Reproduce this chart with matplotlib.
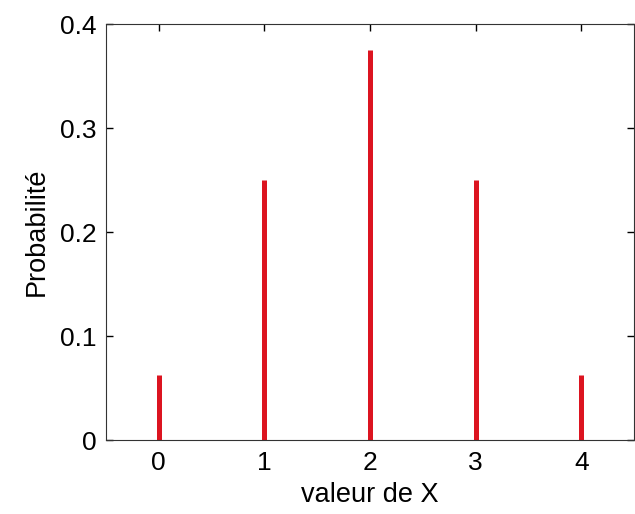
import matplotlib
matplotlib.use("Agg")
import matplotlib.pyplot as plt

x_values = [0, 1, 2, 3, 4]
probabilities = [0.0625, 0.25, 0.375, 0.25, 0.0625]
x_ticks = [0, 1, 2, 3, 4]
y_ticks = [0, 0.1, 0.2, 0.3, 0.4]
y_tick_labels = ["0", "0.1", "0.2", "0.3", "0.4"]

plt.rcParams['font.family'] = ['Liberation Sans', 'DejaVu Sans']

fig = plt.figure(figsize=(6.35, 5.14), dpi=100)
ax = fig.add_axes([106/635, 74/514, 528/635, 416/514])
ax.vlines(x_values, 0, probabilities, colors='#dc1420', linewidth=3.6)
ax.set_xlim(-0.5, 4.5)
ax.set_ylim(0, 0.4)
ax.set_xticks(x_ticks)
ax.set_yticks(y_ticks)
ax.set_yticklabels(y_tick_labels)
ax.tick_params(direction='in', top=True, right=True, labelsize=19, length=5, width=1)
ax.tick_params(axis='y', pad=7)
ax.tick_params(axis='x', pad=8)
for s in ax.spines.values():
    s.set_color('#333333')
ax.set_xlabel('valeur de X', fontsize=19.5, labelpad=5)
ax.set_ylabel('Probabilité', fontsize=19.5, labelpad=7)
fig.savefig('out.png', dpi=100)
